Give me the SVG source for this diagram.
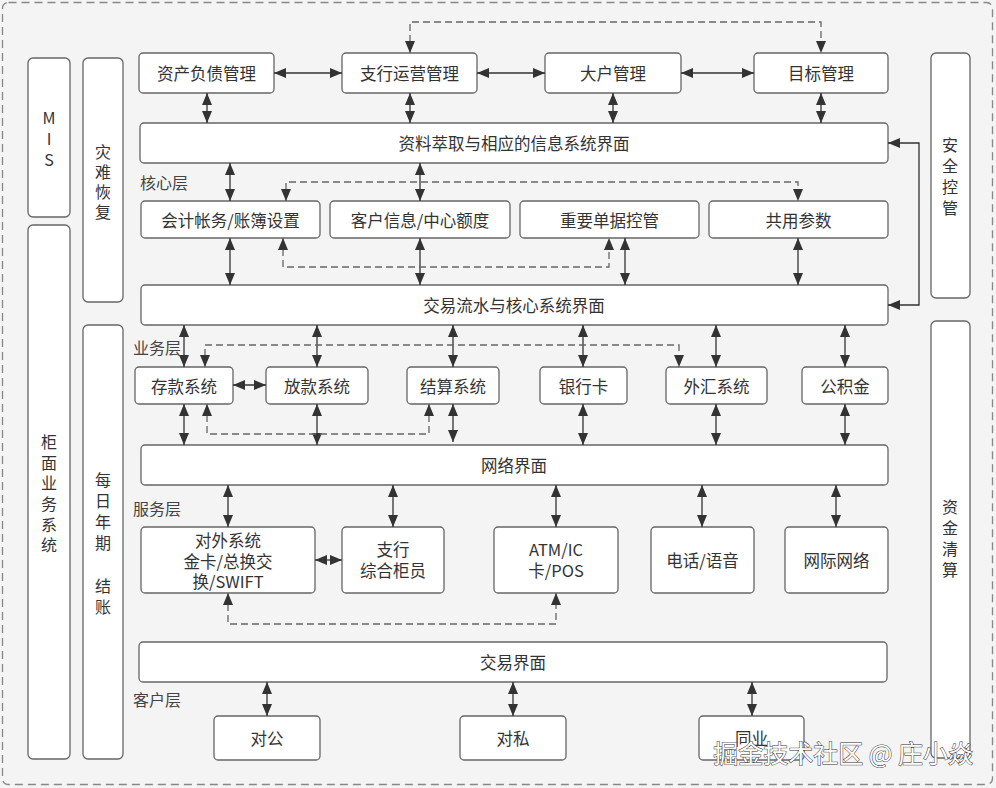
<svg xmlns="http://www.w3.org/2000/svg" width="996" height="788" viewBox="0 0 996 788">
<style>
.bx{fill:#fff;stroke:#666;stroke-width:1.3}
.t{font-family:"Noto Sans CJK SC","Liberation Sans",sans-serif;font-size:16.5px;fill:#333;text-anchor:middle;dominant-baseline:central}
.v{font-family:"Noto Sans CJK SC","Liberation Sans",sans-serif;font-size:16.5px;fill:#333;text-anchor:middle}
.vt{font-family:"Noto Sans CJK SC","Liberation Sans",sans-serif;font-size:16px;fill:#333;text-anchor:middle;writing-mode:vertical-rl;text-orientation:upright}
.lb{font-family:"Noto Sans CJK SC","Liberation Sans",sans-serif;font-size:16px;fill:#444;dominant-baseline:central}
.c{fill:none;stroke:#333;stroke-width:1.3;marker-start:url(#ah);marker-end:url(#ah)}
.d{fill:none;stroke:#666;stroke-width:1.3;stroke-dasharray:7 4;marker-start:url(#ah);marker-end:url(#ah)}
</style>
<defs>
<marker id="ah" markerUnits="userSpaceOnUse" markerWidth="12" markerHeight="10" viewBox="0 0 12 10" refX="12" refY="5" orient="auto-start-reverse">
<path d="M0,0 L12,5 L0,10 z" fill="#333"/>
</marker>
</defs>
<rect x="0" y="0" width="996" height="788" fill="#f4f4f4"/>
<rect x="2.5" y="2.5" width="990" height="782" rx="6" fill="none" stroke="#888" stroke-width="1.3" stroke-dasharray="8 5"/>

<g id="mis"><rect class="bx" x="28" y="58" width="42" height="159" rx="5"/>
<text class="vt" x="49" y="141" letter-spacing="5">MIS</text></g>
<g id="guimian"><rect class="bx" x="28" y="225" width="42" height="534" rx="5"/>
<text class="vt" x="49" y="496" letter-spacing="4.6">柜面业务系统</text></g>
<g id="zainan"><rect class="bx" x="83" y="58" width="40" height="244" rx="5"/>
<text class="vt" x="103" y="184" letter-spacing="4">灾难恢复</text></g>
<g id="meiri"><rect class="bx" x="83" y="325" width="40" height="434" rx="5"/>
<text class="vt" x="103" y="546" letter-spacing="5.2">每日年期　结账</text></g>
<g id="anquan"><rect class="bx" x="931" y="53" width="39" height="245" rx="5"/>
<text class="vt" x="950" y="179" letter-spacing="5">安全控管</text></g>
<g id="zijin"><rect class="bx" x="931" y="321" width="39" height="437" rx="5"/>
<text class="vt" x="950" y="541" letter-spacing="5">资金清算</text></g>

<g id="n-zichan"><rect class="bx" x="139" y="53" width="135" height="40" rx="4"/><text class="t" x="206.5" y="73">资产负债管理</text></g>
<g id="n-zhihang"><rect class="bx" x="342" y="53" width="135" height="40" rx="4"/><text class="t" x="409.5" y="73">支行运营管理</text></g>
<g id="n-dahu"><rect class="bx" x="545" y="53" width="136" height="40" rx="4"/><text class="t" x="613" y="73">大户管理</text></g>
<g id="n-mubiao"><rect class="bx" x="754" y="53" width="134" height="40" rx="4"/><text class="t" x="821" y="73">目标管理</text></g>
<g id="n-ziliao"><rect class="bx" x="140" y="123" width="748" height="40" rx="4"/><text class="t" x="514" y="143">资料萃取与相应的信息系统界面</text></g>

<text class="lb" x="140" y="182">核心层</text>
<g id="n-kuaiji"><rect class="bx" x="141" y="201" width="179" height="37" rx="4"/><text class="t" x="230.5" y="219.5">会计帐务/账簿设置</text></g>
<g id="n-kehu"><rect class="bx" x="330" y="201" width="180" height="37" rx="4"/><text class="t" x="420" y="219.5">客户信息/中心额度</text></g>
<g id="n-danju"><rect class="bx" x="520" y="201" width="179" height="37" rx="4"/><text class="t" x="609.5" y="219.5">重要单据控管</text></g>
<g id="n-canshu"><rect class="bx" x="709" y="201" width="179" height="37" rx="4"/><text class="t" x="798.5" y="219.5">共用参数</text></g>
<g id="n-jiaoyiliushui"><rect class="bx" x="141" y="285" width="747" height="40" rx="4"/><text class="t" x="514" y="305">交易流水与核心系统界面</text></g>

<text class="lb" x="133" y="347">业务层</text>
<g id="n-cunkuan"><rect class="bx" x="135" y="367" width="98" height="37" rx="4"/><text class="t" x="184" y="385.5">存款系统</text></g>
<g id="n-fangkuan"><rect class="bx" x="266" y="367" width="102" height="37" rx="4"/><text class="t" x="317" y="385.5">放款系统</text></g>
<g id="n-jiesuan"><rect class="bx" x="407" y="367" width="92" height="37" rx="4"/><text class="t" x="453" y="385.5">结算系统</text></g>
<g id="n-yinhangka"><rect class="bx" x="540" y="367" width="87" height="37" rx="4"/><text class="t" x="583.5" y="385.5">银行卡</text></g>
<g id="n-waihui"><rect class="bx" x="666" y="367" width="101" height="37" rx="4"/><text class="t" x="716.5" y="385.5">外汇系统</text></g>
<g id="n-gongjijin"><rect class="bx" x="802" y="367" width="86" height="37" rx="4"/><text class="t" x="845" y="385.5">公积金</text></g>
<g id="n-wangluo"><rect class="bx" x="141" y="445" width="747" height="40" rx="4"/><text class="t" x="514" y="465">网络界面</text></g>

<text class="lb" x="133" y="508">服务层</text>
<g id="n-duiwai"><rect class="bx" x="141" y="527" width="174" height="66" rx="4"/><text class="v"><tspan x="228" y="547">对外系统</tspan><tspan x="228" y="567.5">金卡/总换交</tspan><tspan x="228" y="588">换/SWIFT</tspan></text></g>
<g id="n-guiyuan"><rect class="bx" x="342" y="527" width="102" height="66" rx="4"/><text class="v"><tspan x="393" y="556">支行</tspan><tspan x="393" y="577">综合柜员</tspan></text></g>
<g id="n-atm"><rect class="bx" x="494" y="527" width="124" height="66" rx="4"/><text class="v"><tspan x="556" y="556">ATM/IC</tspan><tspan x="556" y="576.5">卡/POS</tspan></text></g>
<g id="n-dianhua"><rect class="bx" x="651" y="527" width="103" height="66" rx="4"/><text class="t" x="702.5" y="560">电话/语音</text></g>
<g id="n-wangji"><rect class="bx" x="785" y="527" width="103" height="66" rx="4"/><text class="t" x="836.5" y="560">网际网络</text></g>
<g id="n-jiaoyi"><rect class="bx" x="139" y="642" width="748" height="40" rx="4"/><text class="t" x="513" y="662">交易界面</text></g>

<text class="lb" x="133" y="699">客户层</text>
<g id="n-duigong"><rect class="bx" x="214" y="716" width="106" height="44" rx="4"/><text class="t" x="267" y="738">对公</text></g>
<g id="n-duisi"><rect class="bx" x="460" y="716" width="106" height="44" rx="4"/><text class="t" x="513" y="738">对私</text></g>
<g id="n-tongye"><rect class="bx" x="699" y="716" width="105" height="44" rx="4"/><text class="t" x="751.5" y="738">同业</text></g>

<g id="connectors">
<path class="c" d="M274,73 H342"/><path class="c" d="M477,73 H545"/><path class="c" d="M681,73 H754"/>
<path class="c" d="M207,93 V123"/><path class="c" d="M410,93 V123"/><path class="c" d="M613,93 V123"/><path class="c" d="M821,93 V123"/>
<path class="c" d="M230,163 V201"/><path class="c" d="M420,163 V201"/>
<path class="c" d="M230,238 V285"/><path class="c" d="M420,238 V285"/><path class="c" d="M625,238 V285"/><path class="c" d="M798,238 V285"/>
<path class="c" d="M888,143 H919 V305 H888"/>
<path class="c" d="M184,325 V367"/><path class="c" d="M317,325 V367"/><path class="c" d="M453,325 V367"/><path class="c" d="M583,325 V367"/><path class="c" d="M716,325 V367"/><path class="c" d="M845,325 V367"/>
<path class="c" d="M233,385 H266"/>
<path class="c" d="M184,404 V445"/><path class="c" d="M317,404 V445"/><path class="c" d="M453,404 V442"/><path class="c" d="M583,404 V445"/><path class="c" d="M716,404 V445"/><path class="c" d="M845,404 V445"/>
<path class="c" d="M228,485 V527"/><path class="c" d="M393,485 V527"/><path class="c" d="M556,485 V527"/><path class="c" d="M702,485 V527"/><path class="c" d="M836,485 V527"/>
<path class="c" d="M315,560 H342"/>
<path class="c" d="M267,682 V716"/><path class="c" d="M513,682 V716"/><path class="c" d="M752,682 V716"/>
<path class="d" d="M410,53 V22 H821 V53"/>
<path class="d" d="M286,201 V182 H798 V201"/>
<path class="d" d="M283,238 V267 H609 V238"/>
<path class="d" d="M205,367 V345 H679 V367"/>
<path class="d" d="M207,404 V434 H429 V404"/>
<path class="d" d="M228,593 V624 H556 V593"/>
</g>

<text x="973" y="752" text-anchor="end" dominant-baseline="central" font-family="Noto Sans CJK SC, Liberation Sans, sans-serif" font-size="25" fill="#fff" stroke="#333" stroke-width="1" paint-order="stroke">掘金技术社区 @ 庄小焱</text>
</svg>
